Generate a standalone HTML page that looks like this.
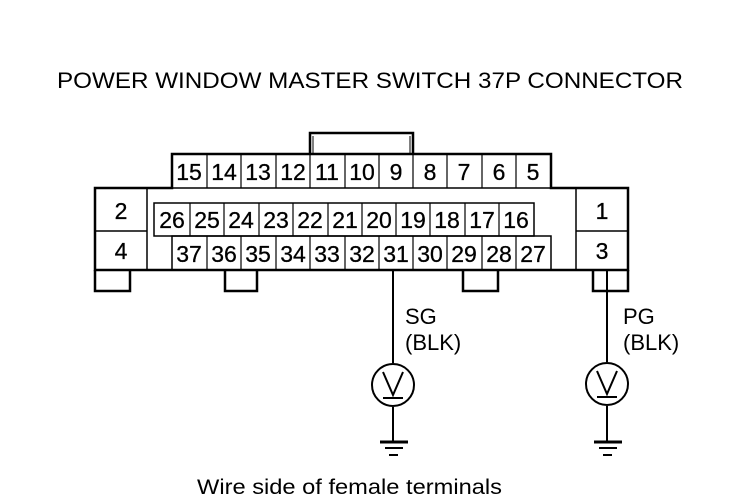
<!DOCTYPE html>
<html><head><style>body{margin:0;background:#fff}svg{display:block}</style></head><body>
<svg width="736" height="500" viewBox="0 0 736 500" xmlns="http://www.w3.org/2000/svg" font-family="Liberation Sans, sans-serif">
<rect width="736" height="500" fill="#fff"/>
<text x="57" y="88" font-size="22" textLength="626" lengthAdjust="spacingAndGlyphs">POWER WINDOW MASTER SWITCH 37P CONNECTOR</text>
<path d="M310,154 V133 H413 V154" fill="none" stroke="#000" stroke-width="2.5"/>
<line x1="313" y1="136" x2="313" y2="154" stroke="#000" stroke-width="1"/>
<line x1="410" y1="136" x2="410" y2="154" stroke="#000" stroke-width="1"/>
<path d="M95,188 H172 V154 H551 V188 H628 V270 H95 Z" fill="none" stroke="#000" stroke-width="2.5"/>
<g fill="none" stroke="#000" stroke-width="1.5">
<line x1="147" y1="188" x2="147" y2="270"/>
<line x1="95" y1="231" x2="147" y2="231"/>
<line x1="576" y1="188" x2="576" y2="270"/>
<line x1="576" y1="231" x2="628" y2="231"/>
<line x1="172" y1="188" x2="551" y2="188"/>
<rect x="154" y="203" width="380" height="33"/>
<path d="M172,270 V236 H551 V270"/>
</g>
<g fill="none" stroke="#000" stroke-width="2.5">
<path d="M95,270 V291 H130 V270"/>
<path d="M225,270 V291 H257 V270"/>
<path d="M463,270 V291 H498 V270"/>
<path d="M593,270 V291 H628 V270"/>
</g>
<g stroke="#000" stroke-width="1.2">
<line x1="207" y1="154" x2="207" y2="188"/><line x1="241" y1="154" x2="241" y2="188"/><line x1="276" y1="154" x2="276" y2="188"/><line x1="310" y1="154" x2="310" y2="188"/><line x1="345" y1="154" x2="345" y2="188"/><line x1="379" y1="154" x2="379" y2="188"/><line x1="413" y1="154" x2="413" y2="188"/><line x1="447" y1="154" x2="447" y2="188"/><line x1="482" y1="154" x2="482" y2="188"/><line x1="516" y1="154" x2="516" y2="188"/>
<line x1="190" y1="203" x2="190" y2="236"/><line x1="224" y1="203" x2="224" y2="236"/><line x1="259" y1="203" x2="259" y2="236"/><line x1="293" y1="203" x2="293" y2="236"/><line x1="328" y1="203" x2="328" y2="236"/><line x1="362" y1="203" x2="362" y2="236"/><line x1="396" y1="203" x2="396" y2="236"/><line x1="430" y1="203" x2="430" y2="236"/><line x1="465" y1="203" x2="465" y2="236"/><line x1="499" y1="203" x2="499" y2="236"/>
<line x1="207" y1="236" x2="207" y2="270"/><line x1="241" y1="236" x2="241" y2="270"/><line x1="276" y1="236" x2="276" y2="270"/><line x1="310" y1="236" x2="310" y2="270"/><line x1="345" y1="236" x2="345" y2="270"/><line x1="379" y1="236" x2="379" y2="270"/><line x1="413" y1="236" x2="413" y2="270"/><line x1="447" y1="236" x2="447" y2="270"/><line x1="482" y1="236" x2="482" y2="270"/><line x1="516" y1="236" x2="516" y2="270"/>
</g>
<g font-size="23" text-anchor="middle" stroke="#000" stroke-width="0.3">
<text x="189" y="180">15</text><text x="224" y="180">14</text><text x="258" y="180">13</text><text x="293" y="180">12</text><text x="327" y="180">11</text><text x="362" y="180">10</text><text x="396" y="180">9</text><text x="430" y="180">8</text><text x="464" y="180">7</text><text x="499" y="180">6</text><text x="533" y="180">5</text>
<text x="172" y="228">26</text><text x="207" y="228">25</text><text x="241" y="228">24</text><text x="276" y="228">23</text><text x="310" y="228">22</text><text x="345" y="228">21</text><text x="379" y="228">20</text><text x="413" y="228">19</text><text x="447" y="228">18</text><text x="482" y="228">17</text><text x="516" y="228">16</text>
<text x="189" y="262">37</text><text x="224" y="262">36</text><text x="258" y="262">35</text><text x="293" y="262">34</text><text x="327" y="262">33</text><text x="362" y="262">32</text><text x="396" y="262">31</text><text x="430" y="262">30</text><text x="464" y="262">29</text><text x="499" y="262">28</text><text x="533" y="262">27</text>
<text x="121" y="219">2</text><text x="121" y="259">4</text><text x="602" y="219">1</text><text x="602" y="259">3</text>
</g>
<g fill="none" stroke="#000" stroke-width="2">
<line x1="393" y1="270" x2="393" y2="363"/>
<circle cx="393" cy="385" r="21"/>
<line x1="393" y1="407" x2="393" y2="442"/>
<line x1="380" y1="442" x2="408" y2="442" stroke-width="3"/>
<line x1="385" y1="448" x2="403" y2="448"/>
<line x1="389" y1="455" x2="398" y2="455"/>
<path d="M383,372 L393,395 L403,372"/><line x1="383" y1="398" x2="403" y2="398"/>
<line x1="607" y1="270" x2="607" y2="362"/>
<circle cx="607" cy="384" r="21"/>
<line x1="607" y1="406" x2="607" y2="442"/>
<line x1="594" y1="442" x2="622" y2="442" stroke-width="3"/>
<line x1="599" y1="448" x2="617" y2="448"/>
<line x1="603" y1="455" x2="612" y2="455"/>
<path d="M597,371 L607,394 L617,371"/><line x1="597" y1="397" x2="617" y2="397"/>
</g>
<g font-size="22">
<text x="405" y="324">SG</text><text x="405" y="350">(BLK)</text>
<text x="623" y="324">PG</text><text x="623" y="350">(BLK)</text>
</g>
<text x="197" y="494" font-size="21" textLength="305" lengthAdjust="spacingAndGlyphs">Wire side of female terminals</text>
</svg>
</body></html>
